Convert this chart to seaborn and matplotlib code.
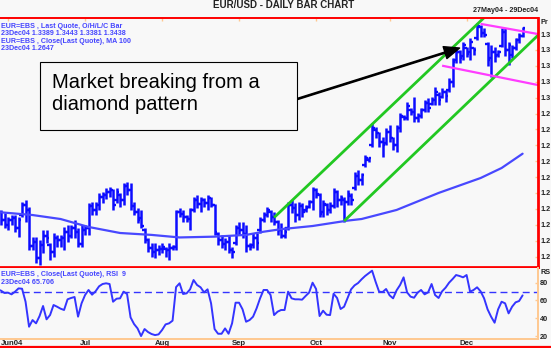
import matplotlib
matplotlib.use("Agg")
import matplotlib.pyplot as plt
import matplotlib.transforms as mtransforms
from matplotlib.lines import Line2D
from matplotlib.patches import Rectangle
import numpy as np
import pandas as pd
import seaborn as sns

sns.set_theme(style="white")
plt.rcParams["font.family"] = ["Liberation Sans", "DejaVu Sans"]

# ---------------------------------------------------------------- data
trade_dates = pd.bdate_range("2004-05-27", "2004-12-23")
calendar = pd.bdate_range("2004-05-27", "2004-12-31")

bar_open = [
    1.2243, 1.2280, 1.2230, 1.2199, 1.2230, 1.2243, 1.2180, 1.2261, 1.2324, 1.2293,
    1.2067, 1.2092, 1.1991, 1.2073, 1.2129, 1.2073, 1.2029, 1.2117, 1.2104, 1.2117,
    1.2155, 1.2129, 1.2180, 1.2155, 1.2079, 1.2167, 1.2180, 1.2318, 1.2293, 1.2324,
    1.2375, 1.2387, 1.2406, 1.2419, 1.2356, 1.2387, 1.2356, 1.2444, 1.2419, 1.2318,
    1.2280, 1.2243, 1.2167, 1.2104, 1.2054, 1.2029, 1.2041, 1.2048, 1.2048, 1.2041,
    1.2054, 1.2060, 1.2280, 1.2268, 1.2249, 1.2236, 1.2293, 1.2356, 1.2331, 1.2356,
    1.2337, 1.2368, 1.2324, 1.2142, 1.2104, 1.2079, 1.2092, 1.2041, 1.2085, 1.2180,
    1.2167, 1.2142, 1.2067, 1.2073, 1.2117, 1.2167, 1.2230, 1.2261, 1.2280, 1.2249,
    1.2217, 1.2167, 1.2129, 1.2180, 1.2324, 1.2306, 1.2261, 1.2318, 1.2293, 1.2312,
    1.2343, 1.2419, 1.2387, 1.2280, 1.2324, 1.2293, 1.2318, 1.2406, 1.2356, 1.2356,
    1.2343, 1.2381, 1.2431, 1.2507, 1.2482, 1.2576, 1.2607, 1.2702, 1.2796, 1.2777,
    1.2721, 1.2714, 1.2784, 1.2746, 1.2702, 1.2809, 1.2878, 1.2872, 1.2922, 1.2909,
    1.2872, 1.2884, 1.2922, 1.2966, 1.2960, 1.2985, 1.3016, 1.3004, 1.3035, 1.3048,
    1.3099, 1.3236, 1.3287, 1.3262, 1.3312, 1.3287, 1.3312, 1.3375, 1.3444, 1.3406,
    1.3337, 1.3249, 1.3287, 1.3268, 1.3325, 1.3413, 1.3299, 1.3268, 1.3312, 1.3362,
    1.3389,
]
bar_high = [
    1.2293, 1.2293, 1.2274, 1.2249, 1.2261, 1.2261, 1.2249, 1.2343, 1.2356, 1.2312,
    1.2123, 1.2123, 1.2104, 1.2167, 1.2167, 1.2085, 1.2148, 1.2136, 1.2136, 1.2186,
    1.2199, 1.2199, 1.2230, 1.2180, 1.2199, 1.2199, 1.2337, 1.2343, 1.2343, 1.2400,
    1.2406, 1.2431, 1.2438, 1.2425, 1.2431, 1.2400, 1.2463, 1.2469, 1.2463, 1.2343,
    1.2306, 1.2293, 1.2180, 1.2117, 1.2085, 1.2085, 1.2073, 1.2085, 1.2060, 1.2085,
    1.2073, 1.2293, 1.2306, 1.2293, 1.2261, 1.2306, 1.2375, 1.2387, 1.2375, 1.2368,
    1.2387, 1.2375, 1.2331, 1.2155, 1.2136, 1.2117, 1.2136, 1.2060, 1.2199, 1.2217,
    1.2217, 1.2199, 1.2085, 1.2148, 1.2148, 1.2249, 1.2280, 1.2312, 1.2293, 1.2280,
    1.2230, 1.2211, 1.2186, 1.2343, 1.2356, 1.2337, 1.2343, 1.2337, 1.2324, 1.2356,
    1.2438, 1.2431, 1.2400, 1.2356, 1.2337, 1.2343, 1.2431, 1.2419, 1.2387, 1.2375,
    1.2419, 1.2400, 1.2532, 1.2545, 1.2526, 1.2639, 1.2626, 1.2840, 1.2815, 1.2784,
    1.2752, 1.2809, 1.2828, 1.2752, 1.2828, 1.2903, 1.2891, 1.2972, 1.2935, 1.3004,
    1.2903, 1.2935, 1.2985, 1.2997, 1.3004, 1.3067, 1.3035, 1.3061, 1.3048, 1.3123,
    1.3249, 1.3312, 1.3299, 1.3350, 1.3318, 1.3375, 1.3318, 1.3469, 1.3457, 1.3438,
    1.3350, 1.3331, 1.3318, 1.3299, 1.3438, 1.3438, 1.3350, 1.3331, 1.3375, 1.3406,
    1.3443,
]
bar_low = [
    1.2217, 1.2199, 1.2180, 1.2167, 1.2199, 1.2155, 1.2123, 1.2249, 1.2217, 1.2041,
    1.2041, 1.1960, 1.1947, 1.2022, 1.2085, 1.1978, 1.1997, 1.2060, 1.2060, 1.2041,
    1.2092, 1.2117, 1.2117, 1.2060, 1.2060, 1.2136, 1.2136, 1.2261, 1.2261, 1.2293,
    1.2337, 1.2362, 1.2375, 1.2293, 1.2337, 1.2312, 1.2324, 1.2387, 1.2293, 1.2261,
    1.2211, 1.2180, 1.2085, 1.2029, 1.1997, 1.1991, 1.2010, 1.2022, 1.1997, 1.1978,
    1.2041, 1.2041, 1.2249, 1.2217, 1.2217, 1.2167, 1.2280, 1.2306, 1.2280, 1.2312,
    1.2293, 1.2312, 1.2136, 1.2073, 1.2054, 1.2041, 1.2022, 1.1991, 1.2073, 1.2136,
    1.2117, 1.2029, 1.2041, 1.2054, 1.2041, 1.2148, 1.2217, 1.2249, 1.2217, 1.2199,
    1.2136, 1.2117, 1.2117, 1.2167, 1.2274, 1.2217, 1.2230, 1.2249, 1.2280, 1.2306,
    1.2293, 1.2368, 1.2249, 1.2249, 1.2261, 1.2274, 1.2306, 1.2312, 1.2324, 1.2217,
    1.2324, 1.2324, 1.2419, 1.2450, 1.2450, 1.2563, 1.2595, 1.2689, 1.2746, 1.2689,
    1.2626, 1.2702, 1.2721, 1.2670, 1.2658, 1.2784, 1.2859, 1.2859, 1.2891, 1.2846,
    1.2846, 1.2872, 1.2909, 1.2909, 1.2953, 1.2953, 1.2953, 1.2997, 1.2972, 1.3035,
    1.3067, 1.3218, 1.3218, 1.3236, 1.3255, 1.3236, 1.3268, 1.3362, 1.3381, 1.3381,
    1.3199, 1.3130, 1.3224, 1.3255, 1.3318, 1.3262, 1.3205, 1.3249, 1.3299, 1.3343,
    1.3381,
]
bar_close = [
    1.2280, 1.2230, 1.2199, 1.2230, 1.2243, 1.2180, 1.2230, 1.2324, 1.2293, 1.2067,
    1.2092, 1.1991, 1.2073, 1.2129, 1.2117, 1.2029, 1.2117, 1.2104, 1.2117, 1.2155,
    1.2129, 1.2180, 1.2155, 1.2079, 1.2167, 1.2180, 1.2318, 1.2293, 1.2324, 1.2375,
    1.2387, 1.2406, 1.2419, 1.2324, 1.2406, 1.2356, 1.2444, 1.2419, 1.2318, 1.2280,
    1.2230, 1.2192, 1.2104, 1.2054, 1.2029, 1.2041, 1.2048, 1.2060, 1.2041, 1.2054,
    1.2060, 1.2280, 1.2268, 1.2249, 1.2236, 1.2293, 1.2356, 1.2331, 1.2356, 1.2337,
    1.2368, 1.2324, 1.2155, 1.2104, 1.2079, 1.2092, 1.2041, 1.2029, 1.2180, 1.2167,
    1.2142, 1.2067, 1.2060, 1.2117, 1.2085, 1.2230, 1.2261, 1.2293, 1.2249, 1.2217,
    1.2167, 1.2129, 1.2155, 1.2324, 1.2306, 1.2261, 1.2318, 1.2280, 1.2306, 1.2343,
    1.2419, 1.2394, 1.2268, 1.2331, 1.2293, 1.2318, 1.2406, 1.2356, 1.2368, 1.2343,
    1.2394, 1.2356, 1.2507, 1.2482, 1.2513, 1.2620, 1.2620, 1.2809, 1.2777, 1.2721,
    1.2702, 1.2784, 1.2746, 1.2702, 1.2809, 1.2885, 1.2872, 1.2947, 1.2909, 1.2872,
    1.2884, 1.2922, 1.2966, 1.2935, 1.2985, 1.3035, 1.2985, 1.3035, 1.3010, 1.3099,
    1.3224, 1.3287, 1.3249, 1.3331, 1.3274, 1.3350, 1.3299, 1.3450, 1.3406, 1.3394,
    1.3236, 1.3287, 1.3262, 1.3287, 1.3413, 1.3299, 1.3331, 1.3312, 1.3362, 1.3387,
    1.3438,
]

# 100-day moving average of the close, sampled along the period
ma_dates = [
    "2004-05-27", "2004-06-10", "2004-06-22", "2004-07-02", "2004-07-15",
    "2004-07-28", "2004-08-09", "2004-08-23", "2004-09-03", "2004-09-10",
    "2004-09-17", "2004-09-30", "2004-10-14", "2004-10-20", "2004-11-03",
    "2004-11-19", "2004-12-07", "2004-12-15", "2004-12-23",
]
ma_values = [
    1.2280, 1.2261, 1.2236, 1.2186, 1.2148,
    1.2136, 1.2120, 1.2125, 1.2136, 1.2156,
    1.2172, 1.2192, 1.2226, 1.2236, 1.2293,
    1.2400, 1.2494, 1.2557, 1.2647,
]

# 9-day RSI of the close
rsi_values = [
    72.5, 71.0, 68.4, 68.8, 66.9, 69.9, 73.6, 73.2, 58.6, 30.5,
    38.0, 34.3, 42.5, 53.8, 38.8, 43.6, 54.9, 53.0, 50.8, 49.3,
    61.3, 62.8, 63.9, 41.8, 56.8, 66.1, 71.8, 66.5, 70.3, 75.9,
    78.5, 79.3, 78.5, 58.6, 62.0, 62.4, 69.9, 67.3, 41.0, 33.5,
    28.6, 20.0, 27.9, 24.5, 22.3, 21.1, 21.9, 26.8, 33.1, 34.3,
    37.3, 75.0, 79.3, 67.3, 68.0, 72.5, 83.0, 77.4, 74.8, 69.1,
    72.5, 56.8, 27.9, 22.6, 22.6, 28.6, 22.6, 34.3, 57.5, 57.5,
    50.0, 36.1, 38.0, 41.8, 51.1, 62.4, 71.8, 71.8, 66.1, 43.6,
    47.4, 49.3, 49.3, 69.9, 62.4, 61.3, 61.3, 60.9, 65.0, 68.8,
    80.0, 72.9, 42.5, 48.5, 44.0, 43.6, 67.6, 62.8, 50.4, 53.0,
    62.8, 72.5, 77.0, 79.6, 83.8, 87.5, 90.5, 93.5, 81.1, 69.9,
    69.5, 72.9, 65.8, 62.4, 71.4, 77.4, 86.0, 69.1, 64.3, 63.1,
    68.8, 71.8, 66.9, 69.1, 78.5, 66.1, 62.8, 70.3, 74.4, 80.0,
    84.1, 88.6, 87.5, 86.0, 88.6, 69.9, 71.8, 74.8, 70.3, 62.4,
    50.0, 41.8, 35.0, 50.0, 58.6, 56.8, 45.5, 53.0, 57.9, 59.4,
    65.706,
]

price_ticks = [1.20, 1.21, 1.22, 1.23, 1.24, 1.25, 1.26, 1.27,
               1.28, 1.29, 1.30, 1.31, 1.32, 1.33, 1.34]
# the narrow right-hand scale only has room for the leading digits
price_tick_labels = ["1.2"] * 10 + ["1.3"] * 5
rsi_ticks = [20, 40, 60, 80]
month_labels = ["Jun04", "Jul", "Aug", "Sep", "Oct", "Nov", "Dec"]

# hand-drawn study lines: (date, price) end points
upper_channel = [("2004-09-15", 1.2245), ("2004-12-10", 1.3545)]
lower_channel = [("2004-10-13", 1.2223), ("2004-12-31", 1.3426)]
diamond_top = [("2004-12-07", 1.3464), ("2004-12-31", 1.3394)]
diamond_bottom = [("2004-11-22", 1.3201), ("2004-12-31", 1.3072)]
arrow_tail = ("2004-09-20", 1.2966)
arrow_head = ("2004-11-29", 1.3312)

# ---------------------------------------------------------------- style
BG = "#f8f8f8"
RED = "#ff0000"
ORANGE = "#ffc890"
BAR_BLUE = "#0c0cff"
MA_BLUE = "#4848ff"
RSI_BLUE = "#3434ff"
TXT_BLUE = "#4646ff"
GREEN = "#22c822"
MAGENTA = "#ff3cff"
DARK = "#222222"
SCALE_FONT = 5.2


def pos(day):
    return calendar.get_loc(pd.Timestamp(day))


W, H = 551, 348
fig = plt.figure(figsize=(W / 100, H / 100), dpi=100, facecolor=BG)
ax = fig.add_axes([0, 1 - 267 / H, 538 / W, 249 / H], facecolor=BG)
ax_rsi = fig.add_axes([0, 1 - 339 / H, 538 / W, 71 / H], facecolor=BG)

x = np.arange(len(trade_dates))
x_left, x_right = 0.7, pos("2004-12-29") + 0.4

# ---- price panel: OHLC bars
ax.vlines(x, bar_low, bar_high, color=BAR_BLUE, linewidth=1.8)
ax.hlines(bar_open, x - 0.8, x, color=BAR_BLUE, linewidth=1.7)
ax.hlines(bar_close, x, x + 0.8, color=BAR_BLUE, linewidth=1.7)

sns.lineplot(x=[pos(d) for d in ma_dates], y=ma_values, ax=ax,
             color=MA_BLUE, linewidth=1.6)

for seg, col in [(upper_channel, GREEN), (lower_channel, GREEN),
                 (diamond_top, MAGENTA), (diamond_bottom, MAGENTA)]:
    ax.plot([pos(d) for d, _ in seg], [p for _, p in seg], color=col,
            linewidth=2.0 if col == GREEN else 1.6, solid_capstyle="butt")

ax.annotate("", xy=(pos(arrow_head[0]), arrow_head[1]),
            xytext=(pos(arrow_tail[0]), arrow_tail[1]),
            arrowprops=dict(facecolor="black", edgecolor="black", width=0.9,
                            headwidth=9, headlength=11, shrink=0))

ax.add_patch(Rectangle((40 / 538, 137 / 249), 257 / 538, 68 / 249,
                       transform=ax.transAxes, facecolor=BG,
                       edgecolor="black", linewidth=0.8, zorder=5))
ax.text(52 / 538, (267 - 93.5) / 249, "Market breaking from a\ndiamond pattern",
        transform=ax.transAxes, fontsize=14.5, color="black", ha="left",
        va="center", linespacing=1.15, zorder=6)

legend_lines = [
    "EUR=EBS , Last Quote, O/H/L/C Bar",
    "23Dec04 1.3389 1.3443 1.3381 1.3438",
    "EUR=EBS , Close(Last Quote), MA 100",
    "23Dec04 1.2647",
]
for k, line in enumerate(legend_lines):
    ax.text(1 / 538, (267 - 26 - 7.6 * k) / 249, line, transform=ax.transAxes,
            fontsize=5.1, fontweight="bold", color=TXT_BLUE, va="center")

ax.set_xlim(x_left, x_right)
ax.set_ylim(1.1934, 1.3501)
ax.set_yticks(price_ticks)
ax.set_yticklabels(price_tick_labels)

month_pos = [pos(trade_dates[trade_dates.month == m][0]) for m in range(6, 13)]
ax.set_xticks(month_pos)
ax.tick_params(axis="x", top=True, bottom=False, labeltop=False,
               labelbottom=False, direction="in", length=2.5, width=1,
               color=ORANGE)
ax.tick_params(axis="y", right=True, left=False, labelright=True,
               labelleft=False, direction="in", length=2, width=1,
               color=ORANGE, pad=1.6, labelsize=SCALE_FONT, labelcolor=DARK)
for lab in ax.get_yticklabels():
    lab.set_fontweight("bold")

ax.spines["left"].set_visible(False)
ax.spines["top"].set_color(RED)
ax.spines["top"].set_linewidth(1.4)
ax.spines["right"].set_color(RED)
ax.spines["right"].set_linewidth(2.0)
ax.spines["bottom"].set_color(RED)
ax.spines["bottom"].set_linewidth(2.0)
ax.spines["bottom"].set_zorder(10)

ax.text(1.0, 1.0 + 4 / 249, "27May04 - 29Dec04", transform=ax.transAxes,
        fontsize=5.1, fontweight="bold", color=DARK, ha="right", va="bottom")
ax.text(540.5 / 538, (267 - 22) / 249, "Pr", transform=ax.transAxes,
        fontsize=SCALE_FONT, fontweight="bold", color=DARK, va="center",
        clip_on=False)

fig.text(284 / W, 1 - 5 / H, "EUR/USD - DAILY BAR CHART", fontsize=7,
         fontweight="bold", color=DARK, ha="center", va="center")

# ---- RSI panel
sns.lineplot(x=x, y=rsi_values, ax=ax_rsi, color=RSI_BLUE, linewidth=1.4)
ax_rsi.axhline(70, color=RSI_BLUE, linewidth=1.0, linestyle=(0, (5, 3)))

ax_rsi.set_xlim(x_left, x_right)
ax_rsi.set_ylim(16.7, 96.5)
ax_rsi.set_yticks(rsi_ticks)
ax_rsi.set_xticks(month_pos)
ax_rsi.set_xticklabels(month_labels)
ax_rsi.tick_params(axis="x", direction="in", length=2.5, width=1,
                   color=ORANGE, pad=0.5, labelsize=5.6, labelcolor=DARK)
ax_rsi.tick_params(axis="y", right=True, left=False, labelright=True,
                   labelleft=False, direction="in", length=2, width=1,
                   color=ORANGE, pad=1.6, labelsize=SCALE_FONT, labelcolor=DARK)
for lab in ax_rsi.get_xticklabels() + ax_rsi.get_yticklabels():
    lab.set_fontweight("bold")
# keep the first month label inside the left edge
first = ax_rsi.get_xticklabels()[0]
first.set_horizontalalignment("left")
first.set_transform(first.get_transform() + mtransforms.ScaledTranslation(
    -7.5 / 100, 0, fig.dpi_scale_trans))

ax_rsi.set_xlabel("")
ax_rsi.set_ylabel("")
ax.set_xlabel("")
ax.set_ylabel("")

ax_rsi.spines["left"].set_visible(False)
ax_rsi.spines["top"].set_visible(False)
ax_rsi.spines["right"].set_color(ORANGE)
ax_rsi.spines["right"].set_linewidth(1.4)
ax_rsi.spines["bottom"].set_color(ORANGE)
ax_rsi.spines["bottom"].set_linewidth(1.4)

for k, line in enumerate(["EUR=EBS , Close(Last Quote), RSI  9",
                          "23Dec04 65.706"]):
    ax_rsi.text(1 / 538, (339 - 275 - 8 * k) / 71, line,
                transform=ax_rsi.transAxes, fontsize=5.1, fontweight="bold",
                color=TXT_BLUE, va="center")
ax_rsi.text(540.5 / 538, (339 - 272) / 71, "RS", transform=ax_rsi.transAxes,
            fontsize=SCALE_FONT, fontweight="bold", color=DARK, va="center",
            clip_on=False)

fig.add_artist(Line2D([0, 1], [1 / H, 1 / H], color=RED, linewidth=1.6))

fig.savefig("out.png", dpi=100, facecolor=BG)
